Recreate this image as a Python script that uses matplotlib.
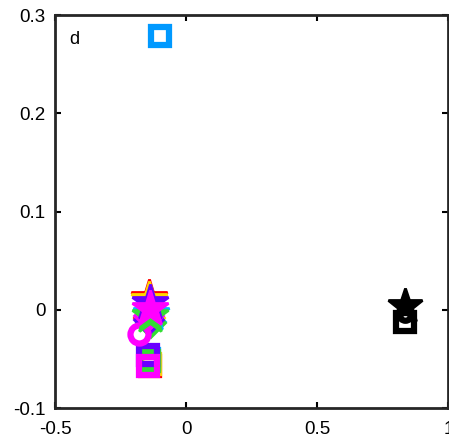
import matplotlib
matplotlib.use("Agg")
import matplotlib.pyplot as plt

plt.rcParams['font.family'] = ['Liberation Sans', 'DejaVu Sans']

# group colours
colors = ['#ff0000', '#ffd800', '#00b4ff', '#33dd33', '#6a00ff', '#ff00ff']
# stars (filled pentagrams)
star_x = [-0.143, -0.140, -0.132, -0.136, -0.138, -0.137]
star_y = [0.012, 0.010, -0.004, -0.006, 0.007, 0.001]
# diamonds
dia_x = [-0.140, -0.138, -0.135, -0.133, -0.142, -0.140]
dia_y = [-0.008, -0.008, -0.012, -0.013, -0.010, -0.006]
# squares
sq_x = [-0.136, -0.138, -0.142, -0.140, -0.145, -0.144]
sq_y = [-0.057, -0.055, -0.050, -0.052, -0.046, -0.057]
# magenta circle
circ_x = [-0.178]
circ_y = [-0.025]
# black group
blk_star = (0.836, 0.004)
blk_dia = (0.836, -0.004)
blk_sq = (0.836, -0.012)
# light blue square
lb_sq = (-0.098, 0.279)

xticks = [-0.5, 0, 0.5, 1]
yticks = [-0.1, 0, 0.1, 0.2, 0.3]

fig = plt.figure(figsize=(4.49, 4.45), dpi=100)
ax = fig.add_axes([0.1225, 0.0831, 0.876, 0.883])

ms_sq = 13.5
mew = 4.5

for i, c in enumerate(colors):
    ax.plot(sq_x[i], sq_y[i], 's', ms=ms_sq, mfc='none', mec=c, mew=mew)
for i, c in enumerate(colors):
    ax.plot(dia_x[i], dia_y[i], 'D', ms=12, mfc='none', mec=c, mew=mew)
ax.plot(circ_x, circ_y, 'o', ms=13, mfc='none', mec='#ff00ff', mew=mew)
for i, c in enumerate(colors):
    ax.plot(star_x[i], star_y[i], '*', ms=27, mfc=c, mec=c, mew=2)

ax.plot(*blk_sq, 's', ms=ms_sq, mfc='none', mec='k', mew=mew)
ax.plot(*blk_dia, 'o', ms=9, mfc='none', mec='k', mew=mew)
ax.plot(*blk_star, '*', ms=26, mfc='k', mec='k', mew=2)

ax.plot(*lb_sq, 's', ms=ms_sq, mfc='none', mec='#0099ff', mew=mew)

ax.set_xlim(-0.5, 1)
ax.set_ylim(-0.1, 0.3)
ax.set_xticks(xticks)
ax.set_xticklabels(['-0.5', '0', '0.5', '1'])
ax.set_yticks(yticks)
ax.set_yticklabels(['-0.1', '0', '0.1', '0.2', '0.3'])
ax.tick_params(direction='in', length=4, width=1.5, labelsize=13.5, top=True, right=True)
ax.tick_params(axis='x', pad=9)
ax.tick_params(axis='y', pad=7)
for s in ax.spines.values():
    s.set_linewidth(2)
    s.set_color('#262626')

ax.text(0.035, 0.96, 'd', transform=ax.transAxes, fontsize=13, va='top', ha='left')

fig.savefig('out.png', dpi=100)
